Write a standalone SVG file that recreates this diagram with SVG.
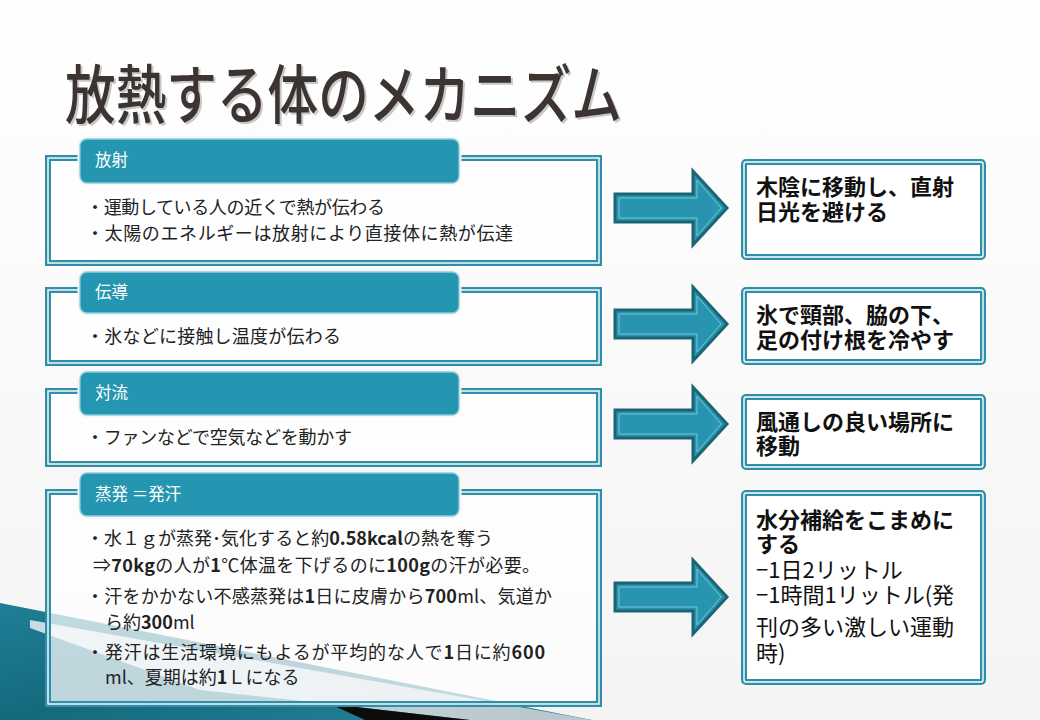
<svg xmlns="http://www.w3.org/2000/svg" xmlns:xlink="http://www.w3.org/1999/xlink" width="1040" height="720" viewBox="0 0 1040 720">
<defs>
<linearGradient id="bg" x1="0" y1="0" x2="0" y2="1">
<stop offset="0" stop-color="#ffffff"/>
<stop offset="1" stop-color="#f4f4f4"/>
</linearGradient>
<linearGradient id="teal" x1="0" y1="0" x2="1" y2="1">
<stop offset="0" stop-color="#1f7f96"/>
<stop offset="0.5" stop-color="#15697d"/>
<stop offset="1" stop-color="#2a8aa3"/>
</linearGradient>
<linearGradient id="grayw" x1="0" y1="0" x2="1" y2="0">
<stop offset="0" stop-color="#c9dde4"/>
<stop offset="1" stop-color="#b9c6cc"/>
</linearGradient>
<path id="arrow" d="M615,-14 H693 V-37 L727,0 L693,37 V14 H615 Z"/>
<path id="arrowIn" d="M619,-10 H697 V-28 L721,0 L697,28 V10 H619 Z"/>
</defs>
<style>
.frame{fill:#ffffff;fill-opacity:0.72;stroke:#2f8fa8;stroke-width:6}
.frameIn{fill:none;stroke:#ffffff;stroke-width:1.4}
.tabGap{fill:#2596b1;stroke:#f6f6f6;stroke-width:5}
.tab{fill:#2596b1;stroke:#8ccbdb;stroke-width:1.3}
.tabText{font-family:"Noto Sans CJK JP","Noto Sans",sans-serif;font-size:16.5px;fill:#ffffff}
.body{font-family:"Noto Sans CJK JP","Noto Sans",sans-serif;font-size:18px;fill:#222222}
.num{font-weight:bold}
.rframe{fill:#ffffff;stroke:#2f8fa8;stroke-width:6}
.rText{font-family:"Noto Sans CJK JP","Noto Sans",sans-serif;font-size:22px;fill:#111111}
.bold{font-weight:bold}
.reg{font-weight:normal}
.arr{fill:#2895b0;stroke:#1a6474;stroke-width:3;stroke-linejoin:miter}
.arrIn{fill:none;stroke:#79c4d6;stroke-width:1}
</style>
<rect x="0" y="0" width="1040" height="720" fill="url(#bg)"/>
<g id="background-deco">
<polygon points="0,603 592,720 0,720" fill="url(#teal)"/>
<polygon points="30,620 592,720 470,720 330,704 200,690 30,628" fill="url(#grayw)"/>
<polygon points="330,704 470,720 365,720" fill="#0c0c0c"/>
</g>
<g id="title">
<text x="65" y="118" textLength="557" lengthAdjust="spacingAndGlyphs" font-family="Noto Sans CJK JP, Noto Sans, sans-serif" font-size="64" font-weight="500" fill="#c8c8c8" transform="translate(2,2)">放熱する体のメカニズム</text>
<text x="65" y="118" textLength="557" lengthAdjust="spacingAndGlyphs" font-family="Noto Sans CJK JP, Noto Sans, sans-serif" font-size="64" font-weight="500" fill="#3b3431">放熱する体のメカニズム</text>
</g>
<g id="node-radiation">
<rect class="frame" x="48" y="158" width="551" height="105"/>
<rect class="frameIn" x="48" y="158" width="551" height="105"/>
<rect class="tabGap" x="80" y="139" width="379" height="44" rx="7"/>
<rect class="tab" x="80" y="139" width="379" height="44" rx="7"/>
<text class="tabText" x="95" y="166">放射</text>
<text class="body" x="86" y="214" textLength="299">・運動している人の近くで熱が伝わる</text>
<text class="body" x="86" y="240" textLength="427">・太陽のエネルギーは放射により直接体に熱が伝達</text>
</g>
<g id="node-conduction">
<rect class="frame" x="48" y="290" width="551" height="73"/>
<rect class="frameIn" x="48" y="290" width="551" height="73"/>
<rect class="tabGap" x="80" y="272" width="379" height="41" rx="7"/>
<rect class="tab" x="80" y="272" width="379" height="41" rx="7"/>
<text class="tabText" x="95" y="298">伝導</text>
<text class="body" x="86" y="343" textLength="255">・氷などに接触し温度が伝わる</text>
</g>
<g id="node-convection">
<rect class="frame" x="48" y="391" width="551" height="73"/>
<rect class="frameIn" x="48" y="391" width="551" height="73"/>
<rect class="tabGap" x="80" y="372" width="379" height="43" rx="7"/>
<rect class="tab" x="80" y="372" width="379" height="43" rx="7"/>
<text class="tabText" x="95" y="399">対流</text>
<text class="body" x="86" y="444" textLength="266">・ファンなどで空気などを動かす</text>
</g>
<g id="node-evaporation">
<rect class="frame" x="48" y="492" width="551" height="212"/>
<rect class="frameIn" x="48" y="492" width="551" height="212"/>
<rect class="tabGap" x="80" y="473" width="379" height="43" rx="7"/>
<rect class="tab" x="80" y="473" width="379" height="43" rx="7"/>
<text class="tabText" x="95" y="500">蒸発 ＝発汗</text>
<text class="body" x="86" y="545" textLength="407">・水１ｇが蒸発･気化すると約<tspan class="num">0.58kcal</tspan>の熱を奪う</text>
<text class="body" x="93" y="572" textLength="447">⇒<tspan class="num">70kg</tspan>の人が<tspan class="num">1</tspan>℃体温を下げるのに<tspan class="num">100g</tspan>の汗が必要。</text>
<text class="body" x="86" y="603" textLength="466">・汗をかかない不感蒸発は<tspan class="num">1</tspan>日に皮膚から<tspan class="num">700</tspan>ml、気道か</text>
<text class="body" x="105" y="629">ら約<tspan class="num">300</tspan>ml</text>
<text class="body" x="86" y="659" textLength="459">・発汗は生活環境にもよるが平均的な人で<tspan class="num">1</tspan>日に約<tspan class="num">600</tspan></text>
<text class="body" x="105" y="684">ml、夏期は約<tspan class="num">1</tspan>Ｌになる</text>
</g>
<g id="connectors">
<g transform="translate(0,208)"><use xlink:href="#arrow" class="arr"/><use xlink:href="#arrowIn" class="arrIn"/></g>
<g transform="translate(0,324)"><use xlink:href="#arrow" class="arr"/><use xlink:href="#arrowIn" class="arrIn"/></g>
<g transform="translate(0,424)"><use xlink:href="#arrow" class="arr"/><use xlink:href="#arrowIn" class="arrIn"/></g>
<g transform="translate(0,597)"><use xlink:href="#arrow" class="arr"/><use xlink:href="#arrowIn" class="arrIn"/></g>
</g>
<g id="node-shade">
<rect class="rframe" x="744" y="162" width="239" height="95" rx="2"/>
<rect class="frameIn" x="744" y="162" width="239" height="95" rx="2"/>
<text class="rText bold" x="756" y="195">木陰に移動し、直射<tspan x="756" y="220">日光を避ける</tspan></text>
</g>
<g id="node-ice">
<rect class="rframe" x="744" y="290" width="239" height="72" rx="2"/>
<rect class="frameIn" x="744" y="290" width="239" height="72" rx="2"/>
<text class="rText bold" x="756" y="323">氷で頸部、脇の下、<tspan x="756" y="348">足の付け根を冷やす</tspan></text>
</g>
<g id="node-wind">
<rect class="rframe" x="744" y="397" width="239" height="70" rx="2"/>
<rect class="frameIn" x="744" y="397" width="239" height="70" rx="2"/>
<text class="rText bold" x="756" y="430">風通しの良い場所に<tspan x="756" y="454">移動</tspan></text>
</g>
<g id="node-water">
<rect class="rframe" x="744" y="493" width="239" height="189" rx="2"/>
<rect class="frameIn" x="744" y="493" width="239" height="189" rx="2"/>
<text class="rText bold" x="756" y="528">水分補給をこまめに<tspan x="756" y="552">する</tspan><tspan class="reg" x="756" y="578">−1日2リットル</tspan><tspan class="reg" x="756" y="603">−1時間1リットル(発</tspan><tspan class="reg" x="756" y="635">刊の多い激しい運動</tspan><tspan class="reg" x="756" y="661">時)</tspan></text>
</g>
</svg>
